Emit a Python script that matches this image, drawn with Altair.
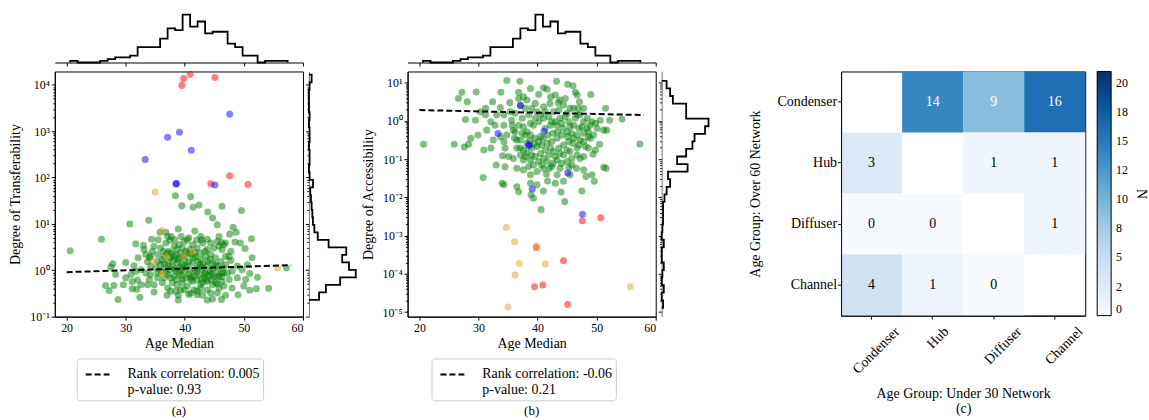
import altair as alt
import numpy as np
import pandas as pd

FONT = "Liberation Serif"

# ---------------- nodes with a non-Channel role (same nodes in panels a and b)
role_age = [39.5, 39.8, 40.9, 44.4, 45.1, 47.6, 50.7,
            33.3, 37.1, 39.1, 41.1, 47.6, 38.5, 38.6, 45.1,
            34.7, 35.0, 36.1, 36.2, 36.9, 41.3, 55.7, 39.8]
role_group = (["Condenser"] * 7) + (["Hub"] * 8) + (["Diffuser"] * 8)
role_transf_log10 = [3.99, 4.14, 4.23, 1.865, 4.16, 2.04, 1.85,
                     2.39, 2.87, 2.98, 2.59, 3.37, 1.865, 1.87, 1.84,
                     0.19, 1.69, 0.86, -0.09, 0.29, 0.395, 0.05, 0.30]
role_access_log10 = [-4.34, -3.31, -4.29, -3.66, -4.80, -2.61, -2.53,
                     -0.33, 0.40, -1.78, -0.27, -2.44, -0.655, -0.62, -1.36,
                     -2.79, -4.87, -3.16, -4.03, -3.73, -3.74, -4.34, -3.27]

# ---------------- Channel nodes, panel (a): age median, log10 transferability
green_a_age = [20.6, 25.9, 30.7, 33.9, 38.4, 41.0, 39.5, 41.4, 42.4, 46.3, 43.9, 44.7, 45.5, 49.6,
               48.2, 48.7, 47.6, 51.3, 49.4, 48.5, 50.2, 51.4, 57.2, 54.2, 52.1, 51.0, 49.0, 46.9,
               46.2, 44.7, 43.8, 42.1, 40.7, 41.6, 38.9, 38.9, 37.0, 34.8, 32.4, 28.7, 27.2, 26.6,
               28.0, 28.3, 27.8, 27.5, 29.6, 31.1, 31.9, 32.6, 33.7, 32.0, 31.7, 31.4, 30.0, 32.1,
               31.7, 33.0, 34.4, 34.0, 35.8, 36.8, 38.9, 41.7, 42.7, 40.7, 43.8, 45.8, 46.6, 47.5,
               47.8, 46.6, 47.5, 48.9, 50.3, 50.0, 48.0, 45.8, 45.2, 43.8, 42.7, 41.0, 39.6, 38.7,
               37.1, 36.2, 35.4, 34.2, 33.4, 32.6, 30.9, 31.1, 30.0,
               34.8, 35.9, 36.8, 37.3, 38.2, 39.0, 39.9, 40.4, 41.3, 42.1, 43.0, 43.8, 44.9, 45.8,
               46.3, 35.4, 36.5, 37.6, 38.5, 39.3, 40.2, 41.0, 41.8, 42.7, 43.5, 44.4, 45.2, 46.1,
               46.9, 35.9, 36.8, 37.9, 38.7, 39.6, 40.4, 41.3, 42.1, 43.0, 43.8, 44.7, 45.5, 37.1,
               38.2, 39.0, 39.9, 40.7, 41.6, 42.4, 43.3, 44.1, 44.9, 45.8, 37.9, 40.4, 42.1, 43.8,
               45.5, 35.9, 35.1, 34.2, 33.7, 33.1, 33.4, 48.9, 48.0, 49.7, 50.6, 51.0, 52.3,
               36.4, 37.7, 38.6, 39.6, 40.9, 41.7, 42.6, 43.4, 44.3, 37.2, 38.1, 39.1, 40.0, 40.7,
               41.7, 42.6, 43.4, 44.3, 45.2, 39.4, 38.5, 37.5, 36.5, 39.6, 41.3, 43.0, 44.7, 46.3,
               46.6, 39.9, 37.6, 43.0, 34.0, 34.8, 47.2, 47.8, 46.9, 45.5, 42.0, 37.5, 37.7]
green_a_log10 = [0.42, 0.67, 1.00, 1.08, 1.61, 1.59, 1.39, 1.36, 1.41, 1.38, 1.26, 1.13, 0.98, 1.29,
                 0.93, 0.82, 0.78, 0.68, 0.59, 0.61, 0.47, 0.27, 0.05, -0.39, -0.40, -0.43, -0.53, -0.54,
                 -0.63, -0.62, -0.64, -0.53, -0.52, -0.42, -0.54, -0.64, -0.54, -0.47, -0.58, -0.63, -0.44, -0.33,
                 -0.33, -0.09, 0.14, 0.07, -0.31, -0.40, -0.41, -0.31, -0.31, -0.21, -0.02, 0.10, 0.17, 0.27,
                 0.57, 0.54, 0.67, 0.27, 0.82, 0.82, 0.89, 0.85, 0.73, 0.70, 0.67, 0.73, 0.55, 0.30,
                 0.21, -0.06, -0.20, -0.16, -0.20, -0.34, -0.38, -0.38, -0.27, -0.24, -0.31, -0.20, -0.19, -0.31,
                 -0.38, -0.27, -0.16, -0.09, -0.06, 0.01, -0.09, -0.24, -0.16,
                 0.52, 0.48, 0.59, 0.41, 0.52, 0.55, 0.62, 0.66, 0.55, 0.48, 0.59, 0.45, 0.48, 0.52,
                 0.45, 0.34, 0.30, 0.27, 0.34, 0.37, 0.41, 0.34, 0.30, 0.23, 0.30, 0.34, 0.27, 0.19,
                 0.12, 0.12, 0.05, 0.09, 0.16, 0.12, 0.09, 0.16, 0.05, 0.02, 0.09, 0.02, -0.02, -0.09,
                 -0.13, -0.06, -0.02, -0.09, -0.13, -0.09, -0.16, -0.11, -0.14, -0.13, -0.27, -0.34, -0.45, -0.42,
                 -0.49, -0.02, 0.05, 0.09, 0.19, 0.45, 0.34, 0.09, -0.02, 0.01, 0.12, -0.07, -0.15,
                 0.41, 0.37, 0.45, 0.48, 0.45, 0.39, 0.37, 0.41, 0.23, 0.19, 0.22, 0.27, 0.23, 0.19,
                 0.01, 0.12, -0.06, -0.02, 0.12, 0.01, -0.02, 0.01, -0.16, -0.27, -0.24, -0.27, -0.31, -0.24,
                 -0.34, -0.42, -0.45, -0.54, -0.20, -0.31, -0.06, 0.41, 0.59, 0.62, 0.65, 0.65, 0.73]
# dense core of panel (a)
green_a_core_age = [35.5, 37.1, 38.3, 39.4, 42.8, 44.4, 46.2, 36.2, 37.0, 38.1, 38.9, 39.8, 40.6, 41.5,
                    42.2, 43.1, 43.9, 44.8, 45.6, 46.5, 36.5, 37.3, 38.3, 39.2, 40.0, 40.9, 42.0, 42.8,
                    43.5, 44.5, 45.4, 46.3, 36.8, 37.6, 38.6, 39.4, 40.3, 41.1, 42.0, 42.8, 43.7, 44.5,
                    45.5, 46.2, 46.9, 35.4, 34.5, 34.2, 35.4, 39.3, 41.0, 44.4, 42.7, 38.5]
green_a_core_log10 = [0.66, 0.73, 0.66, 0.73, 0.66, 0.59, 0.60, 0.23, 0.37, 0.30, 0.23, 0.31, 0.37, 0.27,
                      0.19, 0.14, 0.19, 0.14, 0.09, 0.05, 0.14, 0.10, 0.03, 0.07, 0.10, 0.01, -0.04, 0.07,
                      -0.07, -0.07, -0.14, -0.14, -0.04, -0.16, -0.20, -0.11, -0.16, -0.14, -0.21, -0.19, -0.21, -0.20,
                      -0.29, -0.06, 0.30, 0.19, 0.41, 0.30, -0.06, -0.42, -0.49, -0.49, -0.40, -0.45]

# ---------------- Channel nodes, panel (b): age median, log10 accessibility
green_b_age = [20.7, 25.9, 27.6, 28.3, 26.6, 27.2, 28.1, 29.6, 29.5, 27.8, 28.7, 29.9, 30.9, 30.8,
               32.1, 32.5, 31.4, 31.2, 32.4, 33.0, 33.8, 33.7, 34.0, 34.3, 34.1, 34.5, 34.8, 35.3,
               35.6, 35.9, 36.1, 36.5, 36.8, 37.0, 36.8, 37.4, 37.9, 38.2, 38.8, 40.2, 41.0, 41.6,
               43.2, 43.0, 43.5, 45.1, 46.0, 46.4, 46.7, 47.1, 47.8, 49.0, 51.5, 52.2, 54.3, 57.3,
               50.5, 49.8, 49.4, 48.2, 49.2, 49.6, 51.2, 51.6, 47.5, 44.6, 44.0, 40.6, 39.3, 38.9,
               36.8, 36.5, 41.0, 41.7, 42.0, 41.5, 44.4, 42.4, 46.6, 45.3, 47.2, 48.9, 50.1, 51.2,
               48.9, 47.8, 46.7, 45.5, 44.4, 43.8, 42.1, 41.0, 39.9, 39.0, 37.6, 38.2, 38.8, 39.6,
               40.5, 41.3, 42.2, 43.0, 43.8, 44.7, 45.3, 46.1, 47.0, 47.8, 48.6, 47.2, 46.1, 45.3,
               44.4, 43.6, 42.7, 41.9, 41.0, 40.2, 39.3, 38.5, 37.6, 37.1, 35.9, 35.1, 34.5, 34.3,
               33.7, 32.8, 33.1, 32.1, 31.2, 30.3, 38.2, 39.0, 39.9, 40.7, 41.6, 42.4, 43.3, 44.1,
               45.0, 45.8, 46.7, 48.1, 46.7, 45.5, 44.4, 43.3, 42.6, 43.8, 45.0, 45.8, 39.0, 38.2,
               37.6, 37.1, 36.2, 35.7, 36.8, 39.3, 40.2, 41.0, 41.9, 42.7, 43.6, 45.0, 46.1, 47.2,
               48.4, 49.2, 49.8, 50.6, 51.7, 36.2, 35.4, 34.3, 36.5, 37.6, 38.8, 39.9, 41.0, 43.3,
               45.5, 47.8, 38.8, 39.9, 43.0]
green_b_log10 = [-0.61, -0.61, -0.68, -0.61, 0.59, 0.75, 0.50, 0.76, 0.02, 0.04, -0.45, -0.37, -0.76, -1.48,
                 -0.71, -0.50, -0.24, 0.16, 0.50, -1.15, 0.75, 0.35, -1.63, -1.67, -0.91, -1.20, 1.06, 0.48,
                 0.02, -0.24, -0.45, -0.71, 0.75, 1.04, 0.59, 0.07, 0.33, 0.55, 0.85, 0.70, 0.87, 0.83,
                 1.04, 0.68, 0.48, 0.96, 0.92, 0.75, 0.68, 0.50, 0.33, 0.69, 0.33, 0.02, 0.05, -0.60,
                 -0.61, -0.76, -0.87, -1.45, -1.41, -1.58, -1.21, -1.24, -1.83, -2.11, -1.86, -2.32, -2.02, -1.93,
                 -1.85, -1.72, -1.83, -1.57, -1.24, -1.39, -1.58, -1.19, -1.24, -1.22, -0.98, -0.45, -0.19, -0.24,
                 -0.11, -0.02, 0.16, 0.33, 0.42, 0.55, 0.46, 0.37, 0.24, 0.33, -0.15, -0.28, -0.37, -0.45,
                 -0.41, -0.19, -0.11, -0.02, 0.07, 0.11, -0.02, -0.11, -0.19, -0.32, -0.41, -0.50, -0.45, -0.54,
                 -0.63, -0.71, -0.80, -0.89, -0.98, -1.06, -1.15, -1.19, -1.02, -0.89, -0.98, -0.93, -0.71, -0.54,
                 -0.41, -0.11, 0.16, -0.02, 0.33, 0.24, -0.58, -0.71, -0.67, -0.63, -0.58, -0.54, -0.45, -0.37,
                 -0.28, -0.32, -0.37, -0.67, -0.71, -0.80, -0.89, -1.02, -1.11, -1.24, -1.06, -0.98, -0.89, -0.84,
                 -0.76, -0.50, -0.28, -0.11, -0.11, -0.11, -0.02, 0.07, 0.11, 0.24, 0.29, 0.20, 0.33, 0.16,
                 0.07, -0.02, -0.06, 0.02, -0.24, 0.20, 0.24, 0.16, -1.24, -1.28, -1.41, -1.32, -1.24, -1.41,
                 -1.41, -1.28, -1.63, -1.67, -1.63]
# dense core of panel (b)
green_b_core_age = [37.1, 38.5, 39.6, 40.5, 41.3, 42.4, 43.3, 44.1, 45.5, 46.4, 47.5, 48.4, 38.8, 37.9,
                    38.7, 39.4, 40.2, 40.9, 41.7, 42.6, 43.4, 44.3, 45.1, 46.0, 47.0, 47.8, 48.6, 49.5,
                    46.7, 45.0, 43.8, 43.0, 42.2, 41.3, 40.5, 39.6, 38.8, 37.9, 37.1, 36.5, 37.4, 41.6,
                    40.7, 44.1, 45.8, 47.8, 48.6, 39.6, 42.2, 44.7, 46.9, 37.6, 34.3, 34.8]
green_b_core_log10 = [0.42, 0.16, 0.07, 0.16, 0.24, -0.02, -0.11, -0.06, -0.15, 0.07, -0.15, -0.19, -0.06, -0.37,
                      -0.52, -0.61, -0.54, -0.45, -0.37, -0.32, -0.28, -0.19, -0.41, -0.58, -0.63, -0.54, -0.28, -0.37,
                      -0.89, -0.76, -0.85, -0.93, -0.71, -0.76, -0.85, -0.93, -1.02, -0.93, -0.71, -0.50, -0.32, -1.06,
                      -1.15, -1.11, -1.15, -0.93, -0.71, 0.46, 0.63, 0.59, 0.33, 0.63, -0.11, -0.37]

# ---------------- fitted trend lines (log10 scale) and their legend texts
fit_age = [20.0, 58.0]
fit_a_log10 = [-0.04, 0.11]
fit_b_log10 = [0.285, 0.155]
legend_a = "Rank correlation: 0.005|p-value: 0.93"
legend_b = "Rank correlation: -0.06|p-value: 0.21"

# ---------------- marginal histograms
age_bin_range = [20.6, 57.4]
age_counts = [1, 0, 0, 0, 1, 2, 3, 3, 4, 9, 9, 9, 14, 20, 19, 28, 21, 24, 17, 18, 18, 11, 9, 4, 4, 0, 1, 1, 1]
transf_bin_range_log10 = [-0.64, 4.22]
transf_counts = [15, 25, 46, 69, 59, 49, 55, 29, 13, 8, 6, 5, 4, 3, 2, 6, 1, 0, 1, 1, 0, 1, 1, 0, 1, 0, 0, 0, 1, 4]
access_bin_range_log10 = [-4.89, 1.05]
access_counts = [2, 0, 3, 0, 1, 3, 0, 0, 3, 0, 1, 2, 2, 2, 4, 7, 12, 9, 37, 22, 35, 44, 47, 62, 67, 35, 35, 16, 12, 7]

# ---------------- role transition heatmap
roles = ["Condenser", "Hub", "Diffuser", "Channel"]
heat_values = [[None, 14, 9, 16],
               [3, None, 1, 1],
               [0, 0, None, 1],
               [4, 1, 0, None]]
cbar_values = [0, 2.5, 5, 7.5, 10, 12.5, 15, 17.5, 20]
cbar_labels = ["0", "2", "5", "8", "10", "12", "15", "18", "20"]
blues = ["#f7fbff", "#deebf7", "#c6dbef", "#9ecae1", "#6baed6", "#4292c6", "#2171b5", "#08519c", "#08306b"]
cbar_max = 21

role_domain = ["Channel", "Condenser", "Hub", "Diffuser"]
role_colors = ["#008000", "#ff0000", "#0000ff", "#daa520"]

# ---------------- geometry
SC_W, SC_H = 249, 246
MARG = 47
TOP_H = 48

SUP = {"-": "\u207b", "0": "\u2070", "1": "\u00b9", "2": "\u00b2", "3": "\u00b3",
       "4": "\u2074", "5": "\u2075", "6": "\u2076", "7": "\u2077", "8": "\u2078", "9": "\u2079"}
LOGV = "(log(datum.value)/LN10)"
ISDEC = f"abs({LOGV} - round({LOGV})) < 1e-6"


def log_ticks(decades, lo, hi):
    vals = []
    for k in decades:
        for m in range(1, 10):
            v = m * 10.0 ** k
            if lo <= v <= hi:
                vals.append(v)
    return vals


def log_label_expr(decades):
    parts = [f"round({LOGV}) == {k} ? '10{''.join(SUP[c] for c in str(k))}'" for k in decades]
    return f"{ISDEC} ? (" + " : ".join(parts) + " : '') : ''"


TICK_SIZE = {"condition": {"test": ISDEC, "value": 3.5}, "value": 2}


def scatter_panel(g_age, g_log, r_log, fit_log, leg_text, ydom, decades, ytitle, caption, legx):
    df = pd.DataFrame({
        "age": list(g_age) + role_age,
        "value": 10 ** np.array(list(g_log) + r_log),
        "role": (["Channel"] * len(g_age)) + role_group,
    })
    fit = pd.DataFrame({"age": fit_age, "value": 10 ** np.array(fit_log), "label": [leg_text] * 2})
    xsc = alt.Scale(domain=[18, 60], nice=False, zero=False)
    ysc = alt.Scale(type="log", domain=ydom, nice=False)
    xax = alt.Axis(values=[20, 30, 40, 50, 60], title="Age Median", titlePadding=3, labelPadding=2)
    yax = alt.Axis(values=log_ticks(decades, ydom[0], ydom[1]), labelExpr=log_label_expr(decades),
                   tickSize=TICK_SIZE, labelOverlap=False, title=ytitle, titlePadding=7, labelPadding=2)
    pts = alt.Chart(df).mark_circle(size=50, opacity=0.5).encode(
        x=alt.X("age:Q", scale=xsc, axis=xax),
        y=alt.Y("value:Q", scale=ysc, axis=yax),
        color=alt.Color("role:N", scale=alt.Scale(domain=role_domain, range=role_colors), legend=None),
    )
    line = alt.Chart(fit).mark_line(color="black", strokeWidth=2).encode(
        x=alt.X("age:Q", scale=xsc),
        y=alt.Y("value:Q", scale=ysc),
        strokeDash=alt.StrokeDash(
            "label:N", scale=alt.Scale(domain=[leg_text], range=[[6, 3]]),
            legend=alt.Legend(orient="none", legendX=legx, legendY=288, title=None,
                              symbolType="stroke", symbolSize=576, symbolStrokeWidth=2,
                              symbolStrokeColor="black", symbolOffset=5,
                              labelExpr="split(datum.label, '|')",
                              labelFont=FONT, labelFontSize=14, labelLimit=400, labelOffset=17,
                              padding=3, strokeColor="#cccccc", fillColor="white", cornerRadius=3)),
    )
    return alt.layer(pts, line).properties(
        width=SC_W, height=SC_H,
        view=alt.ViewBackground(stroke="black", strokeWidth=1),
        title=alt.TitleParams(caption, orient="bottom", anchor="middle", frame="group",
                              offset=4, fontSize=13, font=FONT, fontWeight="normal"),
    )


def top_hist():
    edges = np.linspace(age_bin_range[0], age_bin_range[1], len(age_counts) + 1)
    xs, ys = [edges[0]], [0]
    for i, c in enumerate(age_counts):
        xs += [edges[i], edges[i + 1]]
        ys += [c, c]
    xs.append(edges[-1]); ys.append(0)
    df = pd.DataFrame({"age": xs, "count": ys, "o": range(len(xs))})
    return alt.Chart(df).mark_line(color="black", strokeWidth=1.8).encode(
        x=alt.X("age:Q", scale=alt.Scale(domain=[18, 60], nice=False, zero=False),
                axis=alt.Axis(values=[20, 30, 40, 50, 60], labels=False, title=None)),
        y=alt.Y("count:Q", scale=alt.Scale(domain=[0, max(age_counts)], nice=False), axis=None),
        order=alt.Order("o:Q"),
    ).properties(width=SC_W, height=TOP_H)


def right_hist(rng, counts, ydom, decades):
    edges = 10 ** np.linspace(rng[0], rng[1], len(counts) + 1)
    ys, xs = [edges[0]], [0]
    for i, c in enumerate(counts):
        ys += [edges[i], edges[i + 1]]
        xs += [c, c]
    ys.append(edges[-1]); xs.append(0)
    df = pd.DataFrame({"value": ys, "count": xs, "o": range(len(xs))})
    return alt.Chart(df).mark_line(color="black", strokeWidth=1.8).encode(
        y=alt.Y("value:Q", scale=alt.Scale(type="log", domain=ydom, nice=False),
                axis=alt.Axis(values=log_ticks(decades, ydom[0], ydom[1]), labels=False, title=None,
                              tickSize=TICK_SIZE, domainColor="#777777")),
        x=alt.X("count:Q", scale=alt.Scale(domain=[0, max(counts)], nice=False), axis=None),
        order=alt.Order("o:Q"),
    ).properties(width=MARG, height=SC_H)


def blank(w, h):
    return alt.Chart(pd.DataFrame({"v": [0]})).mark_point(opacity=0, size=1).encode(
        x=alt.X("v:Q", axis=None, scale=alt.Scale(domain=[-1, 1])),
        y=alt.Y("v:Q", axis=None, scale=alt.Scale(domain=[-1, 1])),
    ).properties(width=w, height=h)


def heatmap():
    rows = []
    for i, r in enumerate(roles):
        for j, c in enumerate(roles):
            if heat_values[i][j] is not None:
                rows.append({"over60": r, "under30": c, "N": heat_values[i][j]})
    df = pd.DataFrame(rows)
    stops = list(np.linspace(0, cbar_max, len(blues)))
    expr = " : ".join(f"datum.value == {v} ? '{l}'" for v, l in zip(cbar_values, cbar_labels)) + " : ''"
    xsc = alt.Scale(domain=roles, paddingInner=0, paddingOuter=0)
    ysc = alt.Scale(domain=roles, paddingInner=0, paddingOuter=0)
    xenc = alt.X("under30:N", scale=xsc,
                 axis=alt.Axis(labelAngle=-45, labelAlign="right", labelBaseline="top",
                               labelOffset={"condition": {"test": "datum.value == 'Hub'", "value": 9},
                                            "value": 21},
                               labelFontSize=14, title=["Age Group: Under 30 Network", "(c)"],
                               titleFontSize=14, titlePadding=10, titleLineHeight=15, labelPadding=5))
    yenc = alt.Y("over60:N", scale=ysc,
                 axis=alt.Axis(labelFontSize=14, title="Age Group: Over 60 Network", titleFontSize=14,
                               titlePadding=14, labelPadding=1))
    rect = alt.Chart(df).mark_rect().encode(
        x=xenc, y=yenc,
        color=alt.Color("N:Q", scale=alt.Scale(domain=stops, range=blues),
                        legend=alt.Legend(orient="right", offset=12, gradientLength=245, gradientThickness=14,
                                          values=cbar_values, labelExpr=expr, title="N", titleOrient="right",
                                          titleAnchor="middle", titleFontSize=14, titleFontWeight="normal",
                                          titlePadding=6, labelFontSize=12, labelOverlap=False,
                                          gradientStrokeColor="black", gradientStrokeWidth=1,
                                          direction="vertical", labelOffset=5)),
    )
    text = alt.Chart(df).mark_text(fontSize=14, font=FONT).encode(
        x=alt.X("under30:N", scale=xsc),
        y=alt.Y("over60:N", scale=ysc),
        text=alt.Text("N:Q"),
        color=alt.condition("datum.N > 7", alt.value("white"), alt.value("black")),
    )
    return alt.layer(rect, text).properties(
        width=245, height=245, view=alt.ViewBackground(stroke="black", strokeWidth=1))


A_DOM = [0.1, 10 ** 4.29]
B_DOM = [10 ** -5.12, 10 ** 1.295]
A_DEC = [-1, 0, 1, 2, 3, 4]
B_DEC = [-5, -4, -3, -2, -1, 0, 1]

scat_a = scatter_panel(green_a_age + green_a_core_age, green_a_log10 + green_a_core_log10,
                       role_transf_log10, fit_a_log10, legend_a,
                       A_DOM, A_DEC, "Degree of Transferability", "(a)", 22)
scat_b = scatter_panel(green_b_age + green_b_core_age, green_b_log10 + green_b_core_log10,
                       role_access_log10, fit_b_log10, legend_b,
                       B_DOM, B_DEC, "Degree of Accessibility", "(b)", 24)

row0 = [top_hist(), blank(MARG, TOP_H), blank(40, TOP_H), top_hist(), blank(MARG, TOP_H),
        blank(121, TOP_H), blank(245, TOP_H)]
row1 = [scat_a, right_hist(transf_bin_range_log10, transf_counts, A_DOM, A_DEC), blank(40, SC_H),
        scat_b, right_hist(access_bin_range_log10, access_counts, B_DOM, B_DEC), blank(121, SC_H),
        heatmap()]

chart = alt.concat(*row0, *row1, columns=7, spacing={"row": 9, "column": 6}, bounds="flush").resolve_scale(
    x="independent", y="independent", color="independent", strokeDash="independent"
).properties(
    padding={"left": 8, "top": 9, "right": 0, "bottom": 2}
).configure(font=FONT).configure_view(stroke="transparent").configure_axis(
    labelFont=FONT, titleFont=FONT, labelFontSize=12, titleFontSize=14, titleFontWeight="normal",
    grid=False, tickColor="black", domainColor="black", labelColor="black", titleColor="black",
    tickSize=3.5
).configure_legend(labelFont=FONT, titleFont=FONT, labelColor="black", titleColor="black")

chart.save("out.html", embed_options={"renderer": "svg", "actions": False})
